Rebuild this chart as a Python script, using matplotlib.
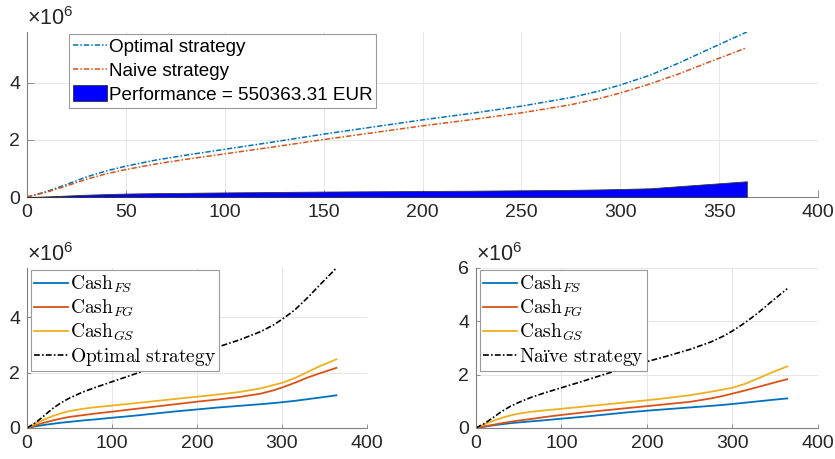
import matplotlib
matplotlib.use("Agg")
import matplotlib.pyplot as plt
import numpy as np
from matplotlib.font_manager import FontProperties

# Trading days and cumulative cash of each strategy (millions of EUR)
days = [0, 10, 20, 30, 40, 50, 65, 80, 100, 125, 150, 175, 200, 225, 250,
        275, 290, 300, 315, 330, 345, 364]

optimal = [0, 0.19, 0.44, 0.70, 0.91, 1.08, 1.29, 1.46, 1.67, 1.93, 2.20, 2.45,
           2.70, 2.93, 3.18, 3.48, 3.72, 3.92, 4.26, 4.70, 5.18, 5.775]
naive = [0, 0.17, 0.39, 0.62, 0.81, 0.96, 1.155, 1.315, 1.51, 1.755, 2.01, 2.25,
         2.49, 2.71, 2.945, 3.23, 3.455, 3.64, 3.955, 4.32, 4.725, 5.22463669]

# Cash components under the optimal strategy
cash_fs_opt = [0, 0.06, 0.11, 0.15, 0.19, 0.22, 0.27, 0.31, 0.37, 0.44, 0.52, 0.60,
               0.67, 0.74, 0.80, 0.86, 0.90, 0.93, 0.98, 1.04, 1.10, 1.18]
cash_fg_opt = [0, 0.10, 0.19, 0.27, 0.34, 0.40, 0.46, 0.52, 0.59, 0.68, 0.77, 0.86,
               0.95, 1.03, 1.12, 1.24, 1.36, 1.46, 1.63, 1.82, 1.98, 2.17]
cash_gs_opt = [0, 0.16, 0.30, 0.43, 0.53, 0.61, 0.69, 0.75, 0.81, 0.89, 0.97, 1.05,
               1.13, 1.21, 1.30, 1.43, 1.55, 1.63, 1.80, 2.02, 2.24, 2.48]

# Cash components under the naive strategy
cash_fs_nai = [0, 0.05, 0.10, 0.14, 0.18, 0.21, 0.25, 0.29, 0.35, 0.42, 0.50, 0.58,
               0.65, 0.71, 0.77, 0.83, 0.87, 0.90, 0.95, 1.00, 1.05, 1.11]
cash_fg_nai = [0, 0.06, 0.12, 0.18, 0.23, 0.28, 0.34, 0.41, 0.49, 0.58, 0.66, 0.74,
               0.82, 0.90, 0.98, 1.11, 1.21, 1.29, 1.41, 1.54, 1.67, 1.83]
cash_gs_nai = [0, 0.14, 0.27, 0.38, 0.47, 0.54, 0.61, 0.66, 0.72, 0.80, 0.88, 0.96,
               1.04, 1.13, 1.23, 1.36, 1.45, 1.51, 1.66, 1.86, 2.07, 2.31]

top_xticks = [0, 50, 100, 150, 200, 250, 300, 350, 400]
bot_xticks = [0, 100, 200, 300, 400]

days_a = np.array(days)
optimal_a = np.array(optimal)
naive_a = np.array(naive)
performance = optimal_a - naive_a
perf_eur = performance[-1] * 1e6

BLUE = "#0072BD"
ORANGE = "#D95319"
YELLOW = "#EDB120"
TXT = "#262626"
SPINE = "#808080"
GRID = "#e6e6e6"
DASHDOT = (0, (3.5, 1.3, 1.0, 1.3))

plt.rcParams["font.family"] = ["Liberation Sans", "DejaVu Sans"]
plt.rcParams["mathtext.fontset"] = "custom"
plt.rcParams["mathtext.rm"] = "Liberation Sans"
plt.rcParams["mathtext.it"] = "Liberation Sans:italic"

FS = 14
W, H = 835, 459
fig = plt.figure(figsize=(W / 100, H / 100), dpi=100)


def px_axes(l, t, r, b):
    return fig.add_axes([l / W, 1 - b / H, (r - l) / W, (b - t) / H])


def style(ax, xticks, yticks, ylim, ticklen):
    ax.set_xlim(0, 400)
    ax.set_ylim(*ylim)
    ax.set_xticks(xticks)
    ax.set_yticks(yticks)
    ax.set_xticklabels([str(v) for v in xticks])
    ax.set_yticklabels([str(v) for v in yticks])
    for s in ("top", "right"):
        ax.spines[s].set_visible(False)
    for s in ("left", "bottom"):
        ax.spines[s].set_color(SPINE)
        ax.spines[s].set_linewidth(0.8)
    ax.tick_params(direction="in", length=ticklen, width=0.6, color=SPINE,
                   labelcolor=TXT, labelsize=FS, pad=5)
    ax.grid(True, color=GRID, linewidth=0.7)
    ax.set_axisbelow(True)
    ax.annotate("\u00d710$^{6}$", xy=(0, 1), xycoords="axes fraction",
                xytext=(0, 5), textcoords="offset points",
                ha="left", va="baseline", fontsize=FS + 1.5, color=TXT)


# Top panel: cumulative cash of both strategies and their difference
ax0 = px_axes(27, 32, 818, 197)
style(ax0, top_xticks, [0, 2, 4], (0, max(optimal)), 5)
l1, = ax0.plot(days_a, optimal_a, color=BLUE, lw=1.1, linestyle=DASHDOT)
l2, = ax0.plot(days_a, naive_a, color=ORANGE, lw=1.1, linestyle=DASHDOT)
area = ax0.fill_between(days_a, 0, performance, facecolor="blue",
                        edgecolor="#333333", linewidth=0.6, zorder=3)
leg0 = ax0.legend([l1, l2, area],
                  ["Optimal strategy", "Naive strategy",
                   "Performance = %.2f EUR" % perf_eur],
                  loc="upper left", bbox_to_anchor=(0.053, 0.99),
                  borderaxespad=0, fontsize=13.6, handlelength=1.8,
                  handleheight=0.9, handletextpad=0.1, labelspacing=0.3,
                  borderpad=0.2, fancybox=False, framealpha=1)
leg0.get_frame().set_edgecolor("#9a9a9a")
leg0.get_frame().set_linewidth(0.8)

cm_prop = FontProperties(size=FS, math_fontfamily="cm")


def bottom_panel(l, r, fs, fg, gs, total, total_label, ylim, yticks):
    ax = px_axes(l, 268, r, 428)
    style(ax, bot_xticks, yticks, ylim, 3)
    h1, = ax.plot(days_a, fs, "-", color=BLUE, lw=1.3)
    h2, = ax.plot(days_a, fg, "-", color=ORANGE, lw=1.3)
    h3, = ax.plot(days_a, gs, "-", color=YELLOW, lw=1.3)
    h4, = ax.plot(days_a, total, color="black", lw=1.2, linestyle=DASHDOT)
    leg = ax.legend([h1, h2, h3, h4],
                    [r"$\mathrm{Cash}_{FS}$", r"$\mathrm{Cash}_{FG}$",
                     r"$\mathrm{Cash}_{GS}$", total_label],
                    loc="upper left", bbox_to_anchor=(0.012, 0.985),
                    borderaxespad=0, prop=cm_prop, handlelength=1.75,
                    handletextpad=0.1, labelspacing=0.15, borderpad=0.15,
                    fancybox=False, framealpha=1)
    leg.get_frame().set_edgecolor("#9a9a9a")
    leg.get_frame().set_linewidth(0.8)
    return ax


bottom_panel(27, 367, cash_fs_opt, cash_fg_opt, cash_gs_opt, optimal,
             r"$\mathrm{Optimal\ strategy}$", (0, max(optimal)), [0, 2, 4])
bottom_panel(476, 818, cash_fs_nai, cash_fg_nai, cash_gs_nai, naive,
             "$\\mathrm{Na\u00efve\\ strategy}$", (0, 6), [0, 2, 4, 6])

fig.savefig("out.png", dpi=100)
